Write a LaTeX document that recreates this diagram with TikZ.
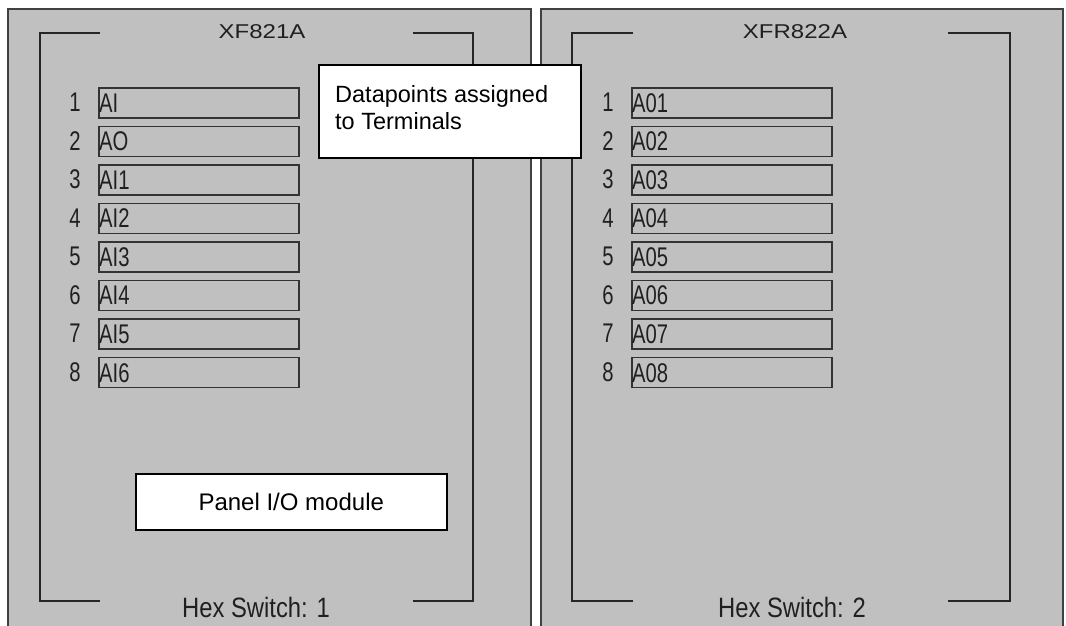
\documentclass[tikz,border=0pt]{standalone}
\usepackage{fontspec}
\setmainfont{Liberation Sans}
\newfontfamily\rowf[FakeStretch=0.75]{Liberation Sans}
\newfontfamily\titlef[FakeStretch=1.2]{Liberation Sans}
\newfontfamily\footf[FakeStretch=0.85]{Liberation Sans}
\definecolor{panelgray}{HTML}{C0C0C0}
\definecolor{edgegray}{HTML}{404040}
\definecolor{txtgray}{HTML}{202020}
\begin{document}
\begin{tikzpicture}[x=1pt,y=-1pt,
  panel/.style={fill=panelgray, draw=edgegray, line width=1.5pt},
  bracket/.style={draw=black!85, line width=2pt},
  slot/.style={draw=black!80, line width=1.5pt, minimum width=200pt, minimum height=30pt, inner sep=0pt, anchor=north west},
  slottext/.style={anchor=west, inner sep=0pt, font=\rowf\fontsize{27}{27}\selectfont, text=txtgray},
  num/.style={font=\rowf\fontsize{27}{27}\selectfont, text=txtgray, inner sep=0pt},
  titletext/.style={font=\titlef\fontsize{20}{20}\selectfont, text=txtgray, inner sep=0pt},
  foottext/.style={font=\footf\fontsize{28}{28}\selectfont, text=txtgray, inner sep=0pt},
  callout/.style={draw=black, line width=1.5pt, fill=white, inner sep=0pt},
]
\useasboundingbox (0,0) rectangle (1066,625);
\fill[white] (0,0) rectangle (1066,625);

% panels
\path[panel] (8,640) -- (8,9) -- (531,9) -- (531,640);
\path[panel] (541,640) -- (541,9) -- (1063,9) -- (1063,640);

% brackets
\draw[bracket] (100,33) -- (40,33) -- (40,601) -- (100,601);
\draw[bracket] (413,33) -- (473,33) -- (473,601) -- (413,601);
\draw[bracket] (633,33) -- (572,33) -- (572,601) -- (633,601);
\draw[bracket] (948,33) -- (1010,33) -- (1010,601) -- (948,601);

% titles and footers
\node[titletext] (t1) at (262,32) {XF821A};
\node[titletext] (t2) at (795,32) {XFR822A};
\node[foottext] (f1) at (256,607) {Hex Switch: 1};
\node[foottext] (f2) at (792,607) {Hex Switch: 2};

% rows
\foreach \i/\lab in {1/AI,2/AO,3/AI1,4/AI2,5/AI3,6/AI4,7/AI5,8/AI6}{
  \node[slot] (L\i) at (98,{87+(\i-1)*38.57}) {};
  \node[slottext] (Lt\i) at ([xshift=1pt]L\i.west) {\lab};
  \node[num] (Ln\i) at (75,{102+(\i-1)*38.57}) {\i};
}
\foreach \i/\lab in {1/A01,2/A02,3/A03,4/A04,5/A05,6/A06,7/A07,8/A08}{
  \node[slot] (R\i) at (631,{87+(\i-1)*38.57}) {};
  \node[slottext] (Rt\i) at ([xshift=1pt]R\i.west) {\lab};
  \node[num] (Rn\i) at (608,{102+(\i-1)*38.57}) {\i};
}

% callouts
\node[callout, anchor=north west, minimum width=262pt, minimum height=93pt] (dp) at (318,64) {};
\node[anchor=base west, align=left, inner sep=0pt, font=\fontsize{23.5}{27}\selectfont] (dpt) at (335,129) {Datapoints assigned\\to Terminals};
\node[callout, anchor=north west, minimum width=311pt, minimum height=56pt, font=\fontsize{24}{27}\selectfont] (pio) at (135,473) {Panel I/O module};
\end{tikzpicture}
\end{document}
